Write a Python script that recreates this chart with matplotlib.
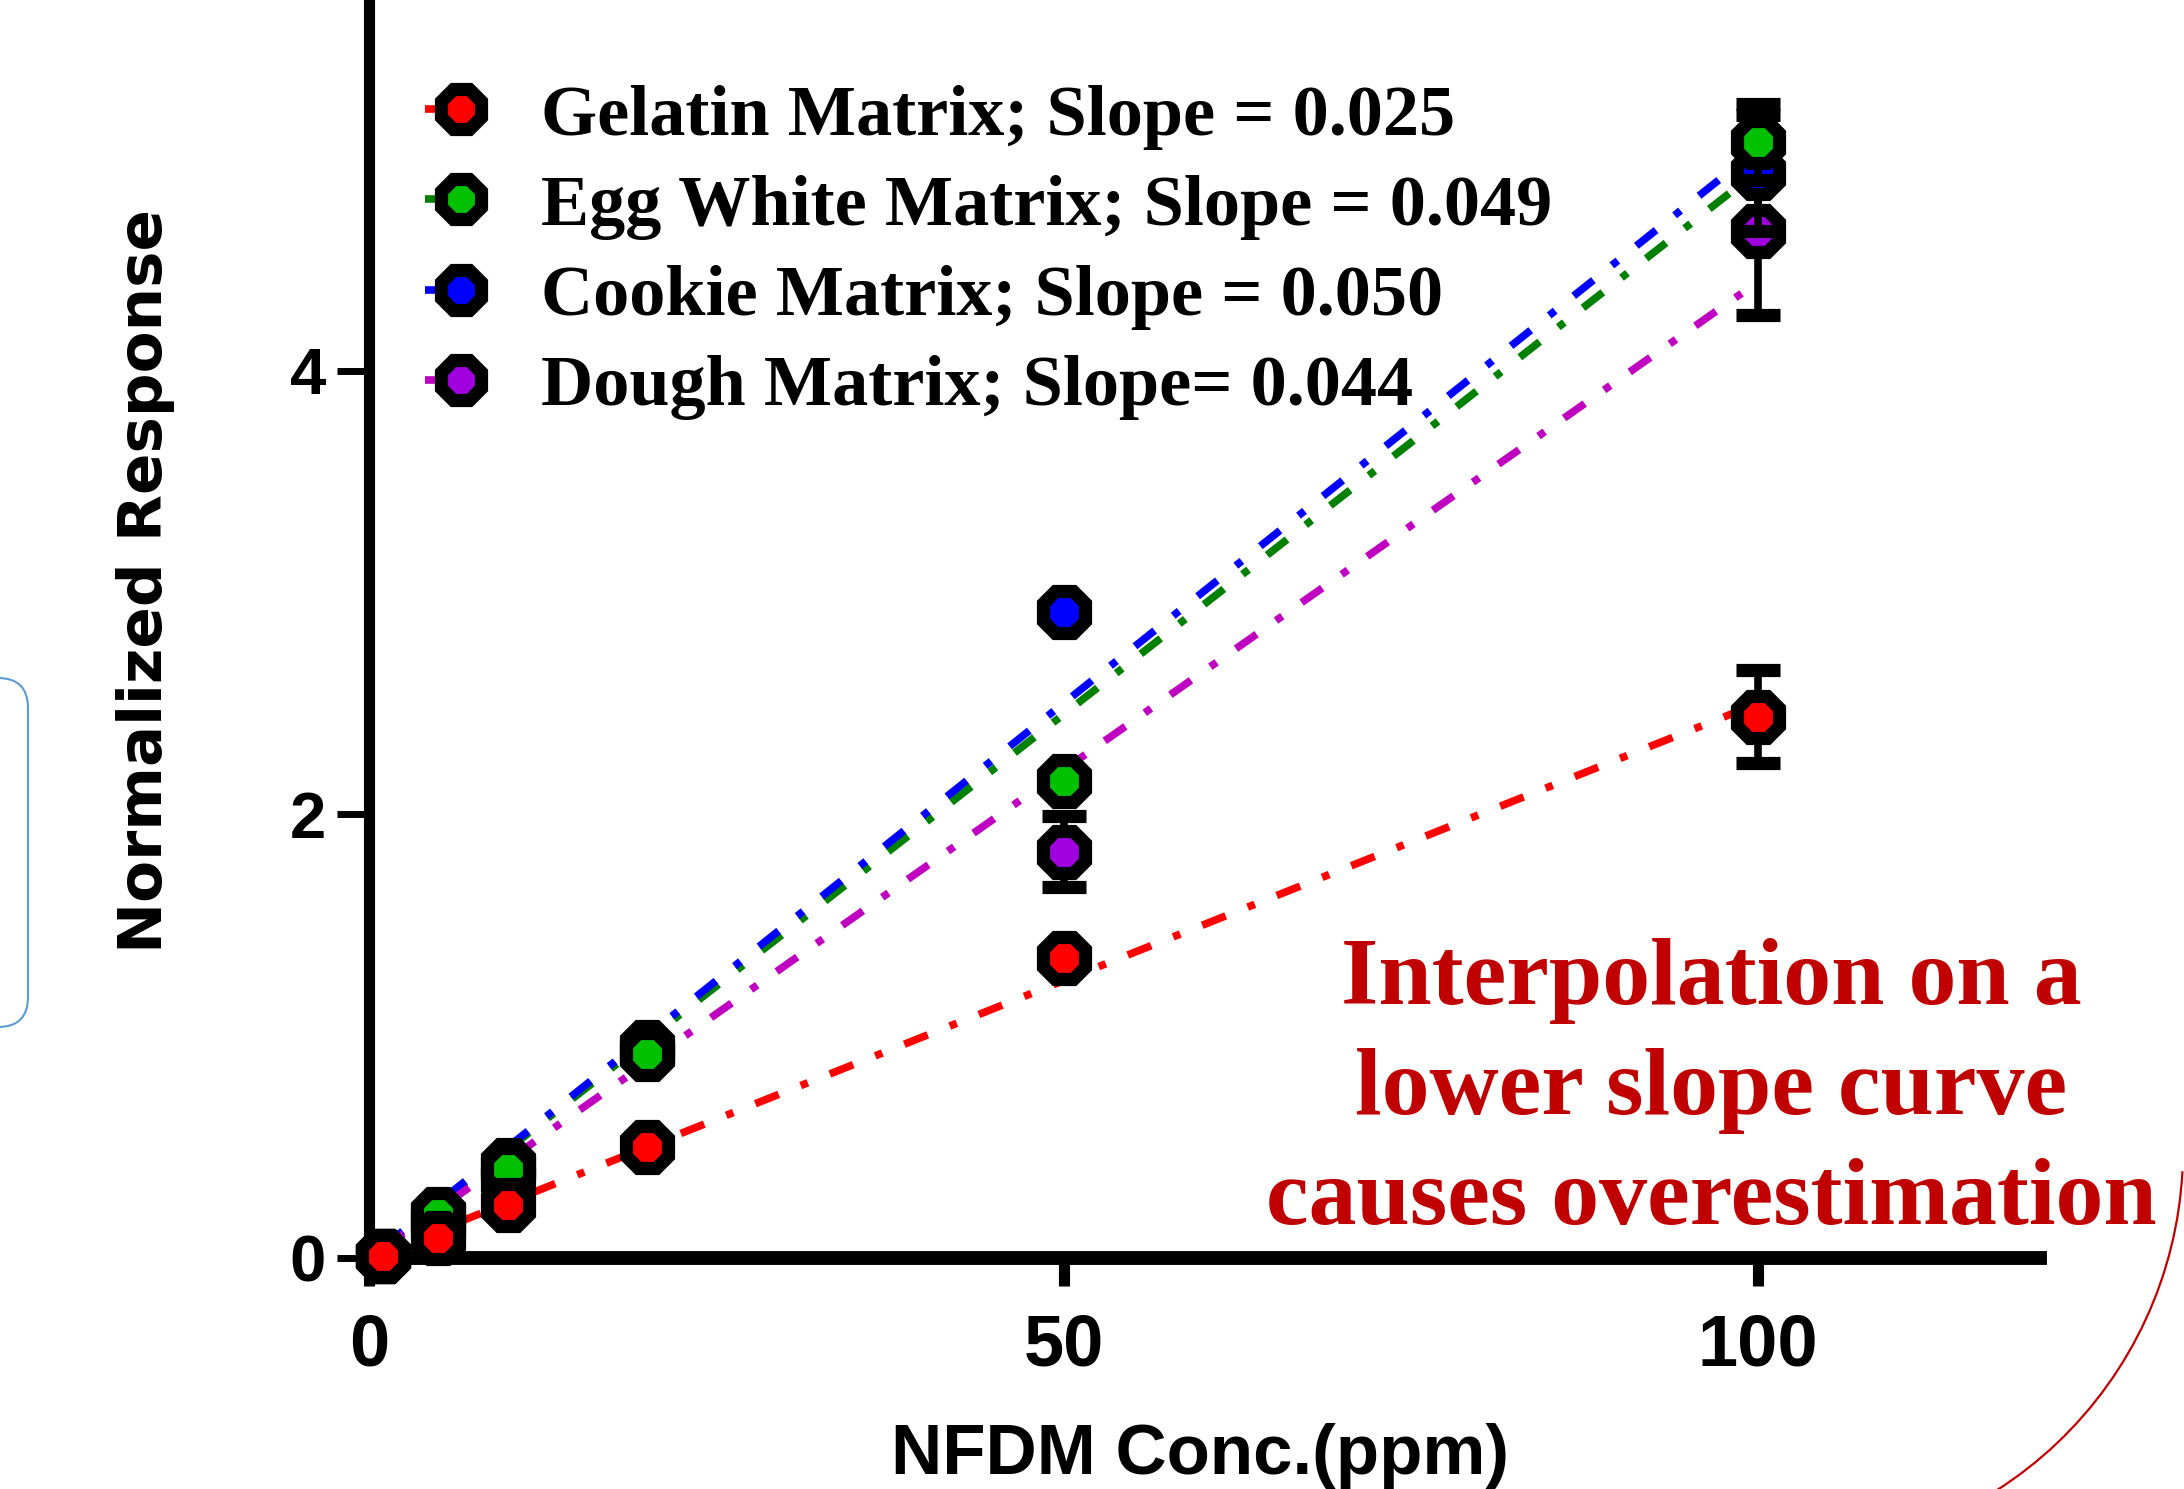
import numpy as np
import matplotlib
matplotlib.use('Agg')
from matplotlib import pyplot as plt
from matplotlib import font_manager
from matplotlib.lines import Line2D
from matplotlib.patches import Arc, FancyBboxPatch
from matplotlib.transforms import Affine2D

# Data
conc = np.array([1, 5, 10, 20, 50, 100])

series_names = ['Gelatin Matrix; Slope = 0.025',
                'Egg White Matrix; Slope = 0.049',
                'Cookie Matrix; Slope = 0.050',
                'Dough Matrix; Slope= 0.044']
slopes = [0.025, 0.049, 0.050, 0.044]

gelatin = [0.01, 0.09, 0.24, 0.50, 1.35, 2.44]
gelatin_err = [0, 0, 0, 0, 0.03, 0.21]
egg_white = [0.01, 0.20, 0.40, 0.92, 2.15, 5.03]
egg_white_err = [0, 0, 0, 0, 0.03, 0.17]
cookie = [0.01, 0.19, 0.42, 0.95, 2.91, 4.89]
cookie_err = [0, 0, 0, 0, 0.03, 0.26]
dough = [0.01, 0.15, 0.35, 0.93, 1.83, 4.63]
dough_err = [0, 0, 0, 0, 0.16, 0.38]

values = [gelatin, egg_white, cookie, dough]
errors = [gelatin_err, egg_white_err, cookie_err, dough_err]
fill_colors = ['#FF0000', '#00C000', '#0000FF', '#A000E0']
line_colors = ['#FF0000', '#008000', '#0000FF', '#C000C0']
marker_z = [6, 5, 4, 3]

note = 'Interpolation on a\nlower slope curve\ncauses overestimation'

# fonts
names = {f.name for f in font_manager.fontManager.ttflist}
narrow = 'Liberation Sans Narrow' if 'Liberation Sans Narrow' in names else 'Liberation Sans'

W, H = 2184, 1489
fig = plt.figure(figsize=(W / 100, H / 100), dpi=100)
ax = fig.add_axes([369 / W, 1 - 1258 / H, (2040 - 369) / W, 1258 / H])

dash = (3.3, 3.1, 1.0, 3.1)
ms, mew = 33.5, 9.5

handles = []
for i in range(4):
    ax.plot(conc, slopes[i] * conc, color=line_colors[i], lw=5.5,
            dashes=dash, zorder=2, clip_on=False)
    ax.errorbar(conc, values[i], yerr=errors[i], fmt='8', ms=ms,
                mfc=fill_colors[i], mec='black', mew=mew, ecolor='black',
                elinewidth=5.5, capsize=16, capthick=5.5,
                zorder=marker_z[i], clip_on=False)
    handles.append(Line2D([], [], color=line_colors[i], lw=5.5, dashes=dash,
                          marker='8', ms=ms, mfc=fill_colors[i], mec='black',
                          mew=mew))

# axes styling
ax.set_xlim(0, 120.3)
ax.set_ylim(0, 5.67)
ax.spines['top'].set_visible(False)
ax.spines['right'].set_visible(False)
ax.spines['left'].set_linewidth(8)
ax.spines['bottom'].set_linewidth(10)
ax.set_xticks([0, 50, 100])
ax.set_yticks([0, 2, 4])
ax.tick_params(axis='x', length=20, width=8, pad=19)
ax.tick_params(axis='y', length=23, width=5, pad=8)
for lab in ax.get_xticklabels():
    lab.set_fontfamily(narrow)
    lab.set_fontweight('bold')
    lab.set_fontsize(52)
for lab in ax.get_yticklabels():
    lab.set_fontfamily('Liberation Sans')
    lab.set_fontweight('bold')
    lab.set_fontsize(47)

ax.set_xlabel('NFDM Conc.(ppm)', fontfamily=narrow, fontweight='bold',
              fontsize=51, va='center')
ax.xaxis.set_label_coords((1200 - 369) / 1671, -198 / 1258)
ax.set_ylabel('Normalized Response', fontfamily='DejaVu Sans',
              fontweight='bold', fontsize=44, va='center')
ax.yaxis.set_label_coords((146 - 369) / 1671, (1258 - 581) / 1258)

leg = ax.legend(handles, series_names, loc='upper left',
                bbox_to_anchor=(425 / W, 1 - 84 / H),
                bbox_transform=fig.transFigure, frameon=False, numpoints=1,
                handlelength=1.0, handletextpad=0.6, labelspacing=0.34,
                borderpad=0, borderaxespad=0, markerscale=0.95,
                prop={'family': 'Liberation Serif', 'weight': 'bold', 'size': 52})

fig.text(1711 / W, 1 - 1091 / H, note, color='#C00000', fontsize=69,
         fontfamily='Liberation Serif', fontweight='bold', ha='center',
         va='center', linespacing=1.36, multialignment='center')

# slide decorations (pixel coordinates, origin bottom-left)
px = Affine2D().scale(1 / W, 1 / H) + fig.transFigure
fig.patches.append(FancyBboxPatch((-100, H - 1027), 128, 349,
                                  boxstyle='round,pad=0,rounding_size=30',
                                  transform=px, fc='none', ec='#5B9BD5', lw=1.5))
fig.patches.append(Arc((1779, H - 1150), 808, 808, theta1=270, theta2=357,
                       transform=px, ec='#C00000', lw=1.6))

fig.savefig('out.png', dpi=100)
